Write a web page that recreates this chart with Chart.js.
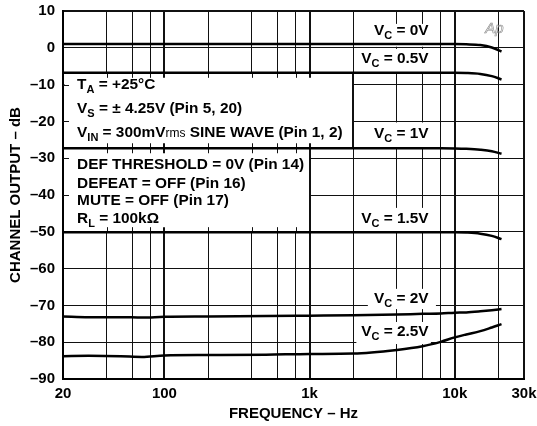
<!DOCTYPE html>
<html>
<head>
<meta charset="utf-8">
<script src="https://cdn.jsdelivr.net/npm/chart.js@4.4.0/dist/chart.umd.min.js"></script>
<style>
  html, body { margin: 0; padding: 0; background: #fff; }
  #wrap { width: 537px; height: 426px; position: relative; }
</style>
</head>
<body>
<div id="wrap"><canvas id="grafico"></canvas></div>
<script>
// frequency points (Hz) shared by every curve
const freqs = [20, 30, 50, 70, 100, 200, 500, 1000, 2000, 4000, 6000, 8000, 10000, 12000, 15000, 18000, 21000];

// channel output (dB) for each control voltage
const vc0V   = [1.0, 1.0, 1.0, 1.0, 1.0, 1.0, 1.0, 1.0, 1.0, 1.0, 1.0, 1.0, 1.0, 0.95, 0.75, 0.1, -1.0];
const vc05V  = [-6.8, -6.8, -6.8, -6.8, -6.8, -6.8, -6.8, -6.8, -6.8, -6.8, -6.8, -6.8, -6.8, -6.85, -7.1, -7.7, -8.6];
const vc1V   = [-27.3, -27.3, -27.3, -27.3, -27.3, -27.3, -27.3, -27.3, -27.3, -27.3, -27.3, -27.3, -27.35, -27.45, -27.7, -28.1, -28.8];
const vc15V  = [-50.1, -50.1, -50.1, -50.1, -50.1, -50.1, -50.1, -50.1, -50.1, -50.1, -50.1, -50.1, -50.1, -50.2, -50.5, -51.1, -52.0];
const vc2V   = [-73.0, -73.2, -73.2, -73.3, -73.1, -73.0, -72.9, -72.8, -72.7, -72.5, -72.3, -72.2, -72.0, -71.9, -71.6, -71.3, -71.0];
const vc25V  = [-83.8, -83.7, -83.8, -84.0, -83.6, -83.5, -83.4, -83.2, -83.1, -82.1, -81.1, -79.9, -78.7, -77.9, -77.0, -76.0, -75.1];

const curves = [vc0V, vc05V, vc1V, vc15V, vc2V, vc25V];

// axis ticks
const xGridTicks = [20, 40, 60, 80, 100, 200, 400, 600, 800, 1000, 2000, 4000, 6000, 8000, 10000, 20000, 30000];
const xTickValues = [20, 100, 1000, 10000, 30000];
const xTickLabels = ['20', '100', '1k', '10k', '30k'];
const xDecades = [100, 1000, 10000];
const yTicks = [10, 0, -10, -20, -30, -40, -50, -60, -70, -80, -90];

const FONT = '"Liberation Sans", Arial, sans-serif';

// curve labels: text parts, right edge (Hz), baseline (dB), white box [f1, f2, dbTop, dbBottom]
const curveNotes = [
  { parts: [['V'], ['C', 's'], [' = 0V']],   f: 6600, db: 3.5,   box: [2000, 8000, 6.5, 0.3], grid: true },
  { parts: [['V'], ['C', 's'], [' = 0.5V']], f: 6600, db: -4.2,  box: [2000, 8000, -0.3, -6.7], grid: true },
  { parts: [['V'], ['C', 's'], [' = 1V']],   f: 6600, db: -24.6, box: [2000, 8000, -20.3, -27.0], grid: true },
  { parts: [['V'], ['C', 's'], [' = 1.5V']], f: 6600, db: -47.7, box: [2000, 8000, -43.5, -49.8], grid: true },
  { parts: [['V'], ['C', 's'], [' = 2V']],   f: 6600, db: -69.4, box: [2520, 7420, -65.5, -71.0], grid: false },
  { parts: [['V'], ['C', 's'], [' = 2.5V']], f: 6600, db: -78.2, box: [2100, 6850, -74.5, -80.5], grid: false }
];

// test-condition boxes
const infoBoxes = [
  { f2: 2000, top: -6.8, bottom: -27.3, lines: [
    { db: -11.3, parts: [['T'], ['A', 's'], [' = +25°C']] },
    { db: -17.8, parts: [['V'], ['S', 's'], [' = ± 4.25V (Pin 5, 20)']] },
    { db: -24.3, parts: [['V'], ['IN', 's'], [' = 300mV'], ['rms', 'r'], [' SINE WAVE (Pin 1, 2)']] }
  ] },
  { f2: 1000, top: -27.3, bottom: -50.1, lines: [
    { db: -33.0, parts: [['DEF THRESHOLD = 0V (Pin 14)']] },
    { db: -38.0, parts: [['DEFEAT = OFF (Pin 16)']] },
    { db: -42.7, parts: [['MUTE = OFF (Pin 17)']] },
    { db: -47.7, parts: [['R'], ['L', 's'], [' = 100kΩ']] }
  ] }
];

const fonts = { n: `bold 15.4px ${FONT}`, s: `bold 11px ${FONT}`, r: `12px ${FONT}` };

function textWidth(ctx, parts) {
  let w = 0;
  parts.forEach(p => { ctx.font = fonts[p[1] || 'n']; w += ctx.measureText(p[0]).width; });
  return w;
}

function drawRich(ctx, parts, x, y) {
  let cx = x;
  ctx.textAlign = 'left';
  ctx.textBaseline = 'alphabetic';
  parts.forEach(p => {
    const k = p[1] || 'n';
    ctx.font = fonts[k];
    ctx.fillText(p[0], cx, y + (k === 's' ? 4 : 0));
    cx += ctx.measureText(p[0]).width;
  });
}

const notesPlugin = {
  id: 'notes',
  beforeDatasetsDraw(chart) {
    const { ctx, chartArea: a, scales: { x, y } } = chart;
    ctx.save();
    // white condition boxes
    ctx.fillStyle = '#fff';
    infoBoxes.forEach(b => {
      const l = a.left + 1.5, r = x.getPixelForValue(b.f2) - 0.5;
      const t = y.getPixelForValue(b.top), bt = y.getPixelForValue(b.bottom);
      ctx.fillRect(l, t, r - l, bt - t);
    });
    // grid stubs on box edges
    ctx.strokeStyle = '#111';
    infoBoxes.forEach(b => {
      const l = a.left, r = x.getPixelForValue(b.f2);
      const t = y.getPixelForValue(b.top), bt = y.getPixelForValue(b.bottom);
      xGridTicks.filter(v => v > 20 && v < b.f2).forEach(v => {
        const px = Math.round(x.getPixelForValue(v)) + (xDecades.includes(v) ? 0 : 0.5);
        ctx.lineWidth = xDecades.includes(v) ? 2 : 1;
        ctx.beginPath();
        ctx.moveTo(px, t); ctx.lineTo(px, t + 5);
        ctx.moveTo(px, bt); ctx.lineTo(px, bt - 5);
        ctx.stroke();
      });
      yTicks.filter(v => v < b.top && v > b.bottom).forEach(v => {
        const py = Math.round(y.getPixelForValue(v)) + 0.5;
        ctx.lineWidth = 1;
        ctx.beginPath();
        ctx.moveTo(l, py); ctx.lineTo(l + 6, py);
        ctx.stroke();
      });
      ctx.lineWidth = 2;
      ctx.beginPath();
      ctx.moveTo(Math.round(r), t); ctx.lineTo(Math.round(r), bt);
      ctx.stroke();
    });
    // white backgrounds of the curve labels
    ctx.fillStyle = '#fff';
    curveNotes.forEach(n => {
      const [f1, f2, d1, d2] = n.box;
      const l = x.getPixelForValue(f1) + (n.grid ? 1.5 : 0), r = x.getPixelForValue(f2) - (n.grid ? 1 : 0);
      const t = y.getPixelForValue(d1), bt = y.getPixelForValue(d2);
      ctx.fillRect(l, t, r - l, bt - t);
    });
    ctx.restore();
  },
  afterDatasetsDraw(chart) {
    const { ctx, scales: { x, y } } = chart;
    ctx.save();
    ctx.fillStyle = '#000';
    curveNotes.forEach(n => {
      const w = textWidth(ctx, n.parts);
      drawRich(ctx, n.parts, x.getPixelForValue(n.f) - w, y.getPixelForValue(n.db));
    });
    infoBoxes.forEach(b => {
      b.lines.forEach(ln => drawRich(ctx, ln.parts, x.getPixelForValue(25), y.getPixelForValue(ln.db)));
    });
    // Audio Precision mark
    ctx.font = `italic 15px ${FONT}`;
    ctx.strokeStyle = '#888';
    ctx.lineWidth = 0.6;
    ctx.textAlign = 'left';
    ctx.textBaseline = 'alphabetic';
    ctx.strokeText('Ap', x.getPixelForValue(16200), y.getPixelForValue(4.1));
    ctx.restore();
  }
};

const noPad = s => { s.paddingTop = 0; s.paddingBottom = 0; s.paddingLeft = 0; s.paddingRight = 0; };

const datasets = curves.map(vals => ({
  data: freqs.map((f, i) => ({ x: f, y: vals[i] })),
  borderColor: '#000',
  borderWidth: 2.5,
  pointRadius: 0,
  fill: false,
  cubicInterpolationMode: 'monotone'
}));

new Chart(document.getElementById('grafico'), {
  type: 'line',
  data: { datasets },
  plugins: [notesPlugin],
  options: {
    responsive: true,
    maintainAspectRatio: false,
    animation: false,
    devicePixelRatio: 1,
    layout: { padding: { top: 11, right: 13, left: 0, bottom: 0 } },
    plugins: { legend: { display: false }, tooltip: { enabled: false } },
    scales: {
      x: {
        type: 'logarithmic',
        min: 20,
        max: 30000,
        afterBuildTicks: s => { s.ticks = xGridTicks.map(v => ({ value: v })); },
        afterFit: s => { s.height = 47; noPad(s); },
        ticks: {
          autoSkip: false,
          maxRotation: 0,
          padding: 6,
          color: '#000',
          font: { family: FONT, size: 15, weight: 'bold' },
          callback: v => {
            const i = xTickValues.indexOf(v);
            return i >= 0 ? xTickLabels[i] : '';
          }
        },
        grid: {
          color: '#111',
          drawTicks: false,
          lineWidth: c => (c.tick && (xDecades.includes(c.tick.value) || c.tick.value === 30000)) ? 2 : 1
        },
        border: { color: '#000', width: 2 },
        title: {
          display: true,
          text: 'FREQUENCY – Hz',
          color: '#000',
          font: { family: FONT, size: 15, weight: 'bold' },
          padding: { top: 0, bottom: 3 }
        }
      },
      y: {
        min: -90,
        max: 10,
        afterBuildTicks: s => { s.ticks = yTicks.map(v => ({ value: v })); },
        afterFit: s => { s.width = 63; noPad(s); },
        ticks: {
          padding: 8,
          color: '#000',
          font: { family: FONT, size: 15, weight: 'bold' },
          callback: v => v < 0 ? '\u2013' + Math.abs(v) : String(v)
        },
        grid: {
          color: '#111',
          drawTicks: false,
          lineWidth: c => (c.tick && c.tick.value === 10) ? 2 : 1
        },
        border: { color: '#000', width: 2 },
        title: {
          display: true,
          text: 'CHANNEL OUTPUT – dB',
          color: '#000',
          font: { family: FONT, size: 15, weight: 'bold' },
          padding: { top: 7, bottom: 0 }
        }
      }
    }
  }
});
</script>
</body>
</html>
